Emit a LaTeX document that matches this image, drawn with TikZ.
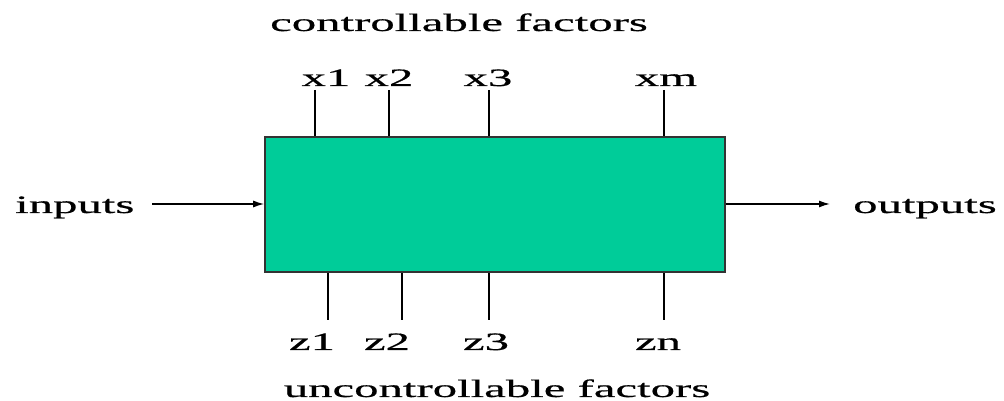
\documentclass[tikz,border=0pt]{standalone}
\usepackage{fontspec}
\setmainfont[FakeStretch=1.95,FakeBold=0.6]{Liberation Serif}
\usepackage{xcolor}
\usepackage{tikz}
\usetikzlibrary{arrows.meta,positioning}

\definecolor{boxgreen}{RGB}{0,204,153}

\begin{document}
\begin{tikzpicture}[
  x=1pt,y=1pt,
  sysbox/.style={draw=black!80,line width=1.6pt,fill=boxgreen,minimum width=460pt,
                 minimum height=135pt,inner sep=0pt},
  lbl/.style={font=\fontsize{25}{30}\selectfont,inner sep=0pt,anchor=base},
  arr/.style={-{Latex[length=11pt,width=7pt]},line width=1.4pt},
  fac/.style={line width=1.7pt}
]
\useasboundingbox (0,0) rectangle (1004,401);
\node[sysbox] (sys) at (495,196.5) {};

% factors on top
\node[lbl] (ctrl) at (459,370) {controllable factors};
\node[lbl] (x1) at (326,315) {x1};
\node[lbl] (x2) at (389,315) {x2};
\node[lbl] (x3) at (488,315) {x3};
\node[lbl] (xm) at (666,315) {xm};
\coordinate (tx1) at (315,311);
\coordinate (tx2) at (389,311);
\coordinate (tx3) at (489,311);
\coordinate (txm) at (664,311);
\foreach \t in {tx1,tx2,tx3,txm}
  \draw[fac] (\t) -- (\t |- sys.north);

% factors below
\node[lbl] (z1) at (312,51) {z1};
\node[lbl] (z2) at (387,51) {z2};
\node[lbl] (z3) at (486,51) {z3};
\node[lbl] (zn) at (658,51) {zn};
\node[lbl] (unctrl) at (497,4) {uncontrollable factors};
\coordinate (bz1) at (328,81);
\coordinate (bz2) at (402,81);
\coordinate (bz3) at (489,81);
\coordinate (bzn) at (664,81);
\foreach \b in {bz1,bz2,bz3,bzn}
  \draw[fac] (\b) -- (\b |- sys.south);

% inputs and outputs
\node[lbl,anchor=base west] (in) at (15,188) {inputs};
\node[lbl,anchor=base west] (out) at (853,188) {outputs};
\coordinate (inend) at (152,197);
\coordinate (outend) at (830,197);
\draw[arr] (inend) -- (inend -| sys.west);
\draw[arr] (outend -| sys.east) -- (outend);
\end{tikzpicture}
\end{document}
